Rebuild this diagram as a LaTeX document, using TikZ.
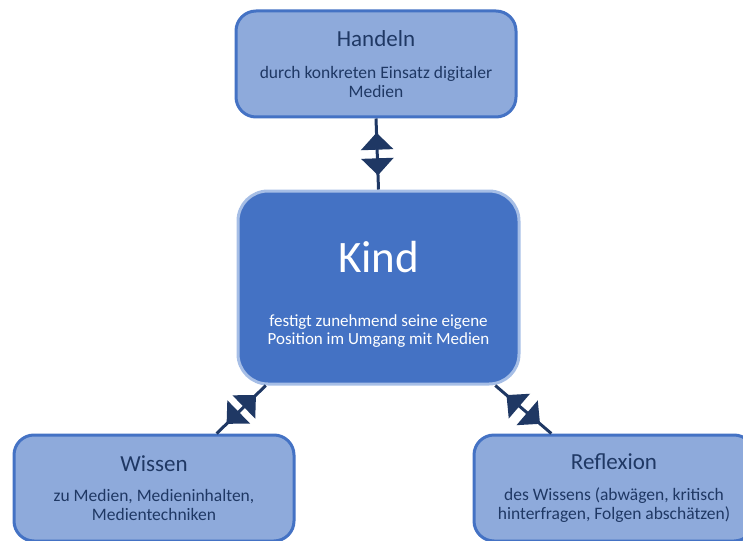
\documentclass[tikz,border=0pt]{standalone}
\usepackage{fontspec}
\setmainfont{Carlito}
\usetikzlibrary{arrows.meta,decorations.markings}

\definecolor{boxfill}{HTML}{8EAADB}
\definecolor{boxline}{HTML}{4472C4}
\definecolor{kindfill}{HTML}{4472C4}
\definecolor{kindline}{HTML}{A6BEE6}
\definecolor{navy}{HTML}{1F3864}

\tikzset{
	sidebox/.style={draw=boxline, fill=boxfill, line width=3pt, rounded corners=20pt,
		minimum width=280pt, minimum height=106pt, inner sep=0pt, align=center,
		text=navy, font=\fontsize{17.5}{19}\selectfont},
	kindbox/.style={sidebox, draw=kindline, fill=kindfill, rounded corners=30pt,
		minimum width=281pt, minimum height=193pt, text=white,
		font=\fontsize{17}{17.5}\selectfont},
	link/.style={navy, line width=3pt, postaction={decorate},
		decoration={markings,
			mark=at position 0.2 with {\arrowreversed{Triangle[width=32pt,length=17pt]}},
			mark=at position 0.8 with {\arrow{Triangle[width=32pt,length=17pt]}}}}
}

\begin{document}
\begin{tikzpicture}[x=1pt, y=-1pt]
			\useasboundingbox (0, 0) rectangle (743, 540);
			\clip (0, 0) rectangle (743, 540);

			\node[sidebox] (handeln) at (376, 64)
				{{\fontsize{23}{23}\selectfont Handeln}\\[13.5pt]durch konkreten Einsatz digitaler\\Medien};
			\node[kindbox] (kind) at (378.5, 287.5)
				{\raisebox{0pt}[44pt][0pt]{\fontsize{45}{45}\selectfont Kind}\\[37pt]festigt zunehmend seine eigene\\Position im Umgang mit Medien};
			\node[sidebox] (wissen) at (154, 488)
				{{\fontsize{23}{23}\selectfont Wissen}\\[11.5pt]zu Medien, Medieninhalten,\\Medientechniken};
			\node[sidebox] (reflexion) at (614, 488)
				{{\fontsize{23}{23}\selectfont Reflexion}\\[11.5pt]des Wissens (abwägen, kritisch\\hinterfragen, Folgen abschätzen)};

			\draw[link] (kind.north) -- (handeln.south);
			\draw[link] (kind.221.4) -- (wissen.41.5);
			\draw[link] (kind.-40.4) -- (reflexion.139.8);

		\end{tikzpicture}
\end{document}
